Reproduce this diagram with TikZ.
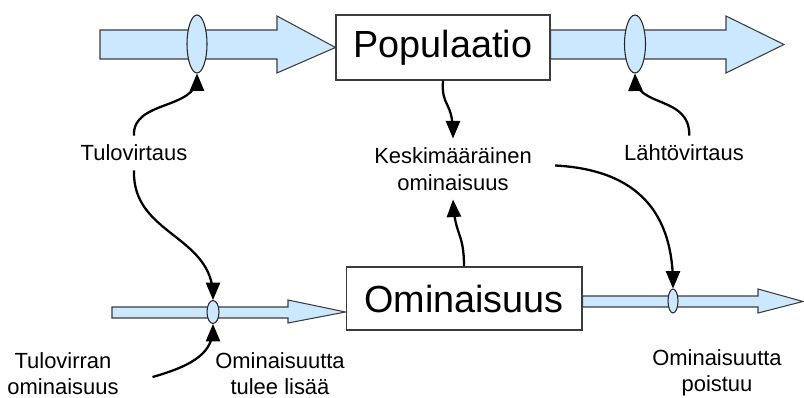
\documentclass[tikz,border=0pt]{standalone}
\usepackage{fontspec}
\setmainfont{Liberation Sans}
\usepackage{tikz}
\usetikzlibrary{arrows,shapes,positioning}
\definecolor{pipeblue}{RGB}{204,232,255}
\definecolor{pipegray}{RGB}{60,60,60}
\tikzstyle{box} = [rectangle, draw=pipegray, fill=white, line width=0.6pt, text centered, font=\fontsize{21.5}{24}\selectfont]
\tikzstyle{valve} = [ellipse, draw=black!85, fill=pipeblue, line width=0.6pt, inner sep=0pt]
\tikzstyle{pipe} = [draw=pipegray, fill=pipeblue, line width=0.6pt, line join=miter]
\tikzstyle{txt} = [align=center, outer sep=2pt, font=\fontsize{12.5}{15}\selectfont]
\tikzstyle{link} = [line width=1.3pt, ->, >=triangle 45]

\begin{document}
\begin{tikzpicture}[x=0.02cm,y=-0.02cm]
\useasboundingbox (0,0) rectangle (804,398);
\node[box, minimum width=4.28cm, minimum height=1.3cm] (pop) at (443,47.5) {Populaatio};
\node[box, minimum width=4.72cm, minimum height=1.26cm] (omin) at (464,298.5) {Ominaisuus};

% flows
\filldraw[pipe] (100,30) -- (277,30) -- (277,16) -- (pop.west) -- (277,73) -- (277,59) -- (100,59) -- cycle;
\filldraw[pipe] (pop.east |- 0,30) -- (726,30) -- (726,16) -- (784,44.5) -- (726,73) -- (726,59) -- (pop.east |- 0,59) -- cycle;
\filldraw[pipe] (112,307) -- (288,307) -- (288,300) -- (omin.west |- 0,312) -- (288,323) -- (288,318) -- (112,318) -- cycle;
\filldraw[pipe] (omin.east |- 0,296) -- (758,296) -- (758,289) -- (803,301.5) -- (758,313) -- (758,307) -- (omin.east |- 0,307) -- cycle;

\node[valve, minimum width=0.4cm, minimum height=1.16cm] (vin) at (197,44) {};
\node[valve, minimum width=0.42cm, minimum height=1.16cm] (vout) at (635,44) {};
\node[valve, minimum width=0.24cm, minimum height=0.46cm] (vlin) at (213,312) {};
\node[valve, minimum width=0.2cm, minimum height=0.48cm] (vlout) at (673,301) {};

\node[txt] (tulo) at (134,153) {Tulovirtaus};
\node[txt] (lahto) at (684,153) {Lähtövirtaus};
\node[txt] (kesk) at (453,169) {Keskimääräinen\\ominaisuus};
\node[txt] (tulom) at (63,373.5) {Tulovirran\\ominaisuus};
\node[txt] (lisaa) at (280,373.5) {Ominaisuutta\\tulee lisää};
\node[txt] (poist) at (717,372.5) {Ominaisuutta\\poistuu};

\draw[link] (tulo.north) .. controls (132,100) and (197,110) .. (vin.south);
\draw[link] (tulo.south) .. controls (132,235) and (213,235) .. (vlin.north);
\draw[link] ([xshift=14pt,yshift=-2pt]tulom.east) .. controls (195,365) and (213,352) .. (vlin.south);
\draw[link] (pop.south) .. controls (441,108) and (453,100) .. (kesk.north);
\draw[link] (omin.north) .. controls (464,232) and (455,236) .. (kesk.south);
\draw[link] ([xshift=8pt,yshift=2pt]kesk.east) .. controls (640,170) and (673,215) .. (vlout.north);
\draw[link] ([xshift=3pt]lahto.north) .. controls (690,95) and (636,108) .. (vout.south);
\end{tikzpicture}
\end{document}
